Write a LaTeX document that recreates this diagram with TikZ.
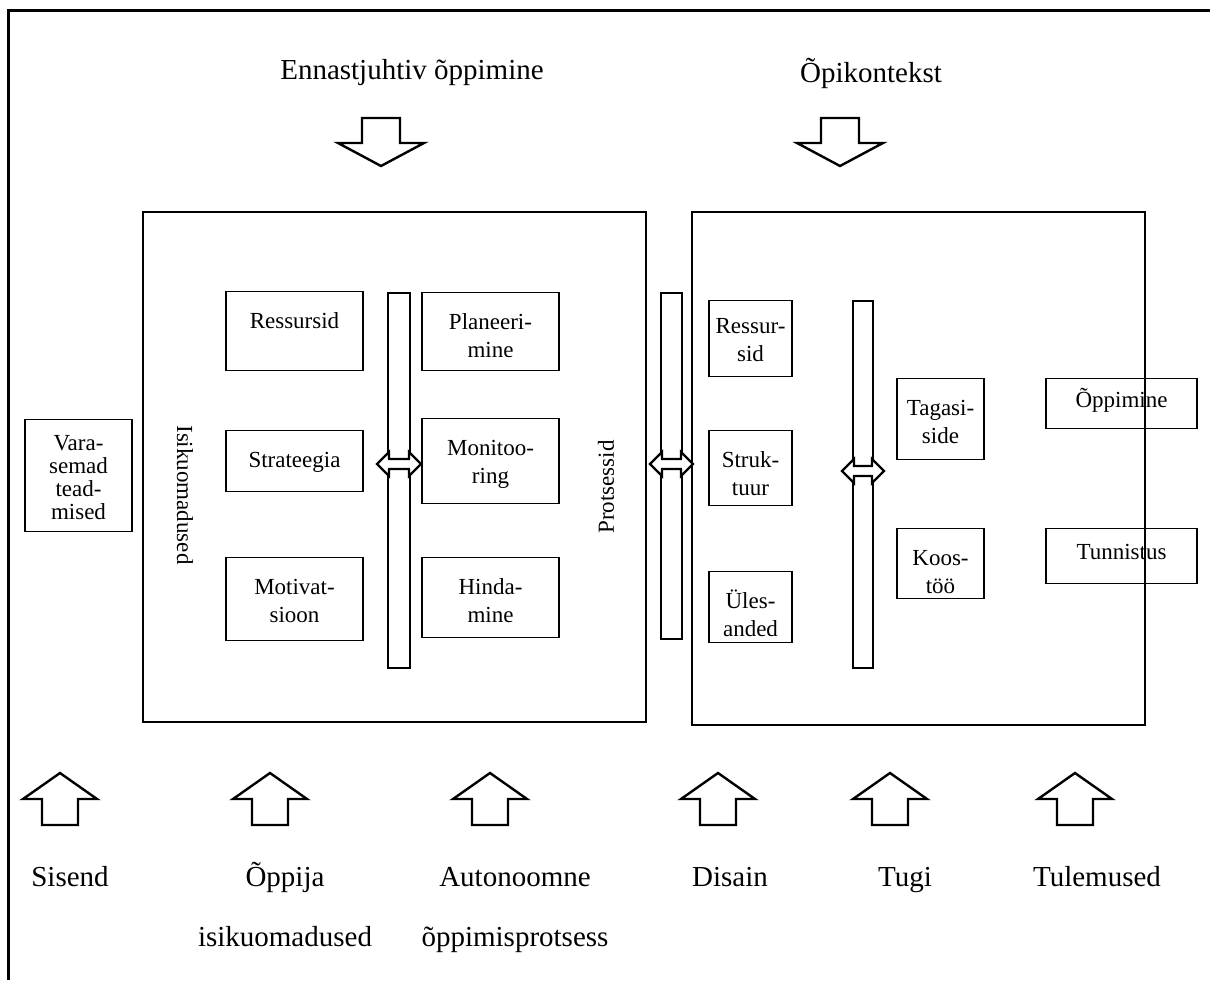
\documentclass[tikz,border=0pt]{standalone}
\usepackage{fontspec}
\setmainfont{Liberation Serif}
\tikzset{
  boxtext/.style={font=\fontsize{23}{28}\selectfont, align=center},
  smallbox/.style={draw, line width=1.2pt, inner sep=0pt},
  bigbox/.style={draw, line width=2.4pt, inner sep=0pt},
  bar/.style={draw, line width=2.4pt, fill=white, inner sep=0pt},
  blockarrow/.style={draw, line width=2.4pt, fill=white, line join=miter},
  heading/.style={font=\fontsize{29}{60}\selectfont, align=center, inner sep=0pt},
}
% box with text at its top: [text offset] name, centre x, top y, width, height, text
\newcommand{\kast}[7][15]{%
  \node [smallbox, anchor=north, minimum width=#5pt, minimum height=#6pt] (#2) at (#3,#4) {};
  \node [boxtext, anchor=north, inner sep=0pt] (#2txt) at ([yshift=-#1pt]#2.north) {\rule{0pt}{22pt}#7};}
% double headed arrow through a bar: left edge, right edge, height
\newcommand{\dblarrow}[3]{%
  \draw[blockarrow] (#1-11,#3) -- (#1+1,#3-12) -- (#1+1,#3-5) -- (#2-1,#3-5) -- (#2-1,#3-12)
    -- (#2+11,#3) -- (#2-1,#3+12) -- (#2-1,#3+5) -- (#1+1,#3+5) -- (#1+1,#3+12) -- cycle;}
\begin{document}
\begin{tikzpicture}[x=1pt,y=-1pt]
	\useasboundingbox (0,0) rectangle (1210,980);
	\draw [line width=3pt] (8,980) -- (8,10) -- (1210,10);
	% headings
	\node [heading] (enn) at (412,73) {Ennastjuhtiv õppimine};
	\node [heading] (opik) at (871,73) {Õpikontekst};
	\foreach \cx in {381,840}
		\draw [blockarrow] (\cx-19,118) -- (\cx+19,118) -- (\cx+19,143) -- (\cx+43,143) -- (\cx,166) -- (\cx-43,143) -- (\cx-19,143) -- cycle;
	% big boxes
	\node [bigbox, minimum width=503pt, minimum height=510pt] (isik) at (394.5,467) {};
	\node [bigbox, minimum width=453pt, minimum height=513pt] (kont) at (918.5,468.5) {};
	\node [boxtext, rotate=-90, inner sep=0pt] (isiklab) at (185,495) {Isikuomadused};
	\node [boxtext, rotate=90, inner sep=0pt] (protlab) at (606,487) {Protsessid};
	% left box
	\kast{ress}{294.5}{291}{137}{79}{Ressursid}
	\kast{strat}{294.5}{430}{137}{61}{Strateegia}
	\kast{motiv}{294.5}{557}{137}{83}{Motivat-\\sioon}
	\kast{plan}{490.5}{292}{137}{78}{Planeeri-\\mine}
	\kast{monit}{490.5}{418}{137}{85}{Monitoo-\\ring}
	\kast{hind}{490.5}{557}{137}{80}{Hinda-\\mine}
	% right box
	\kast[11]{ressb}{750.5}{300}{83}{76}{Ressur-\\sid}
	\kast{struk}{750.5}{430}{83}{75}{Struk-\\tuur}
	\kast{ules}{750.5}{571}{83}{71}{Üles-\\anded}
	\kast{tagasi}{940.5}{378}{87}{81}{Tagasi-\\side}
	\kast{koos}{940.5}{528}{87}{70}{Koos-\\töö}
	% outside
	\kast[9]{vara}{78.5}{419}{107}{112}{Vara-\\[-5pt]semad\\[-5pt]tead-\\[-5pt]mised}
	\kast[7]{oppim}{1121.5}{378}{151}{50}{Õppimine}
	\kast[9]{tunn}{1121.5}{528}{151}{55}{Tunnistus}
	% bars with arrows
	\node [bar, minimum width=22pt, minimum height=375pt] (bara) at (399,480.5) {};
	\node [bar, minimum width=21pt, minimum height=346pt] (barb) at (671.5,466) {};
	\node [bar, minimum width=20pt, minimum height=367pt] (barc) at (863,484.5) {};
	\dblarrow{388}{410}{464}
	\dblarrow{661}{682}{464}
	\dblarrow{853}{873}{471}
	% bottom
	\foreach \cx in {60,270,490,718,890,1075}
		\draw [blockarrow] (\cx-18,825) -- (\cx+18,825) -- (\cx+18,799) -- (\cx+37,799) -- (\cx,773) -- (\cx-37,799) -- (\cx-18,799) -- cycle;
	\node [heading, anchor=base] (sis) at (70,886) {Sisend};
	\node [heading, anchor=base] (oppija) at (285,946) {Õppija\\isikuomadused};
	\node [heading, anchor=base] (auto) at (515,946) {Autonoomne\\õppimisprotsess};
	\node [heading, anchor=base] (dis) at (730,886) {Disain};
	\node [heading, anchor=base] (tugi) at (905,886) {Tugi};
	\node [heading, anchor=base] (tul) at (1097,886) {Tulemused};
\end{tikzpicture}
\end{document}
